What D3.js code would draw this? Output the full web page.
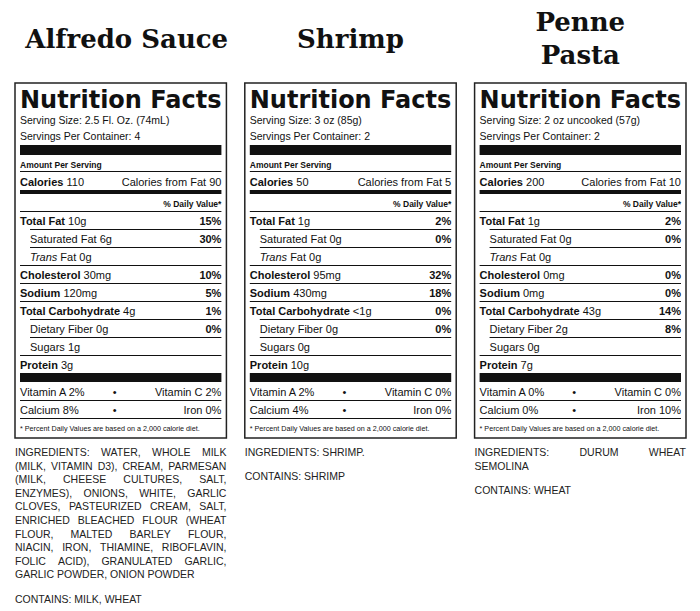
<!DOCTYPE html>
<html><head><meta charset="utf-8">
<script src="https://cdn.jsdelivr.net/npm/d3@7"></script>
<style>body{margin:0;background:#fff}</style></head>
<body><svg id="c" width="700" height="611"></svg>
<script>
const titles=[["Alfredo Sauce"],["Shrimp"],["Penne","Pasta"]];
const servingSize=["2.5 Fl. Oz. (74mL)","3 oz (85g)","2 oz uncooked (57g)"];
const servings=[4,2,2];
const calories=[110,50,200];
const calFromFat=[90,5,10];
const rowNames=["Total Fat","Saturated Fat","Trans Fat","Cholesterol","Sodium","Total Carbohydrate","Dietary Fiber","Sugars","Protein"];
const rowBold=[1,0,0,1,1,1,0,0,1];
const rowIndent=[0,1,1,0,0,0,1,1,0];
const amounts=[["10g","6g","0g","30mg","120mg","4g","0g","1g","3g"],["1g","0g","0g","95mg","430mg","<1g","0g","0g","10g"],["1g","0g","0g","0mg","0mg","43g","2g","0g","7g"]];
const dvs=[["15%","30%","","10%","5%","1%","0%","",""],["2%","0%","","32%","18%","0%","0%","",""],["2%","0%","","0%","0%","14%","8%","",""]];
const vitA=["2%","2%","0%"],vitC=["2%","0%","0%"],calcium=["8%","4%","0%"],iron=["0%","0%","10%"];
const ingredients=[
 ["INGREDIENTS: WATER, WHOLE MILK","(MILK, VITAMIN D3), CREAM, PARMESAN","(MILK, CHEESE CULTURES, SALT,","ENZYMES), ONIONS, WHITE, GARLIC","CLOVES, PASTEURIZED CREAM, SALT,","ENRICHED BLEACHED FLOUR (WHEAT","FLOUR, MALTED BARLEY FLOUR,","NIACIN, IRON, THIAMINE, RIBOFLAVIN,","FOLIC ACID), GRANULATED GARLIC,","GARLIC POWDER, ONION POWDER"],
 ["INGREDIENTS: SHRIMP."],
 ["INGREDIENTS: DURUM WHEAT","SEMOLINA"]];
const contains=["CONTAINS: MILK, WHEAT","CONTAINS: SHRIMP","CONTAINS: WHEAT"];

const svg=d3.select("#c");
const F="'Liberation Sans',Arial,sans-serif";
const col=d3.scaleBand().domain([0,1,2]).range([15,686]).paddingInner(0.08);
const W=col.bandwidth();
titles.forEach((t,i)=>{
  const cx=col(i)+W/2+(i==0?6:0);
  t.forEach((s,j)=>svg.append("text").attr("x",cx).attr("y",(t.length==1?48:31)+j*33).attr("text-anchor","middle")
   .attr("font-family","'DejaVu Serif',serif").attr("font-weight","bold").attr("font-size",26).attr("fill","#111").text(s));
});
function justify(g,line,x0,x1,y,just){
  const words=line.split(" ");
  if(!just){g.append("text").attr("x",x0).attr("y",y).text(line);return;}
  const ts=words.map(w=>g.append("text").attr("y",y).text(w));
  const tot=d3.sum(ts,t=>t.node().getComputedTextLength());
  const gap=(x1-x0-tot)/(words.length-1);
  let x=x0;ts.forEach(t=>{t.attr("x",x);x+=t.node().getComputedTextLength()+gap;});
}
[0,1,2].forEach(i=>{
  const x0=col(i),x1=x0+W,g=svg.append("g").attr("font-family",F).attr("fill","#111");
  const L=x0+5,R=x1-5;
  g.append("rect").attr("x",x0).attr("y",83).attr("width",W).attr("height",355).attr("fill","none").attr("stroke","#222").attr("stroke-width",1.5);
  const txt=(x,y,s,o={})=>g.append("text").attr("x",x).attr("y",y).attr("font-size",o.fs||11).attr("font-weight",o.b?"bold":"normal")
     .attr("font-style",o.it?"italic":"normal").attr("text-anchor",o.a||"start").text(s);
  const hline=(y,h,l)=>g.append("rect").attr("x",l||L).attr("y",y).attr("width",R-(l||L)).attr("height",h).attr("fill","#111");
  txt(L,108,"Nutrition Facts",{fs:25,b:1}).attr("font-family","'DejaVu Sans',sans-serif").attr("textLength",R-L).attr("lengthAdjust","spacingAndGlyphs");
  txt(L,124,"Serving Size: "+servingSize[i],{fs:10.5});
  txt(L,140,"Servings Per Container: "+servings[i],{fs:10.5});
  hline(145,10);
  txt(L,168,"Amount Per Serving",{fs:8.5,b:1});
  hline(171,1);
  const c=txt(L,186,"Calories",{b:1});c.append("tspan").attr("font-weight","normal").text(" "+calories[i]);
  txt(R,186,"Calories from Fat "+calFromFat[i],{a:"end"});
  hline(190,4);
  txt(R,207,"% Daily Value*",{fs:8.5,b:1,a:"end"});
  const ry=d3.scaleLinear().domain([0,1]).range([225,243]);
  rowNames.forEach((n,k)=>{
    const y=ry(k), xl=L+(rowIndent[k]?10:0);
    hline(y-14,1,xl);
    let t;
    if(k==2){t=txt(xl,y,"Trans",{it:1});t.append("tspan").attr("font-style","normal").text(" Fat "+amounts[i][k]);}
    else{t=txt(xl,y,n,{b:rowBold[k]});t.append("tspan").attr("font-weight","normal").text(" "+amounts[i][k]);}
    if(dvs[i][k])txt(R,y,dvs[i][k],{b:1,a:"end"});
  });
  hline(ry(8)+4,9);
  const vy=ry(9)+9;
  txt(L,vy,"Vitamin A "+vitA[i]);txt((L+R)/2-6,vy,"•",{a:"middle"});txt(R,vy,"Vitamin C "+vitC[i],{a:"end"});
  hline(vy+4,1);
  txt(L,vy+18,"Calcium "+calcium[i]);txt((L+R)/2-6,vy+18,"•",{a:"middle"});txt(R,vy+18,"Iron "+iron[i],{a:"end"});
  hline(vy+22,1);
  txt(L,vy+35,"* Percent Daily Values are based on a 2,000 calorie diet.",{fs:7.2});
  const ig=svg.append("g").attr("font-family",F).attr("font-size",10.5).attr("fill","#222");
  const lines=ingredients[i];
  lines.forEach((l,k)=>justify(ig,l,x0,x1,456+k*13.6,lines.length>1&&k<lines.length-1));
  ig.append("text").attr("x",x0).attr("y",456+lines.length*13.6+10.5).text(contains[i]);
});
</script></body></html>
